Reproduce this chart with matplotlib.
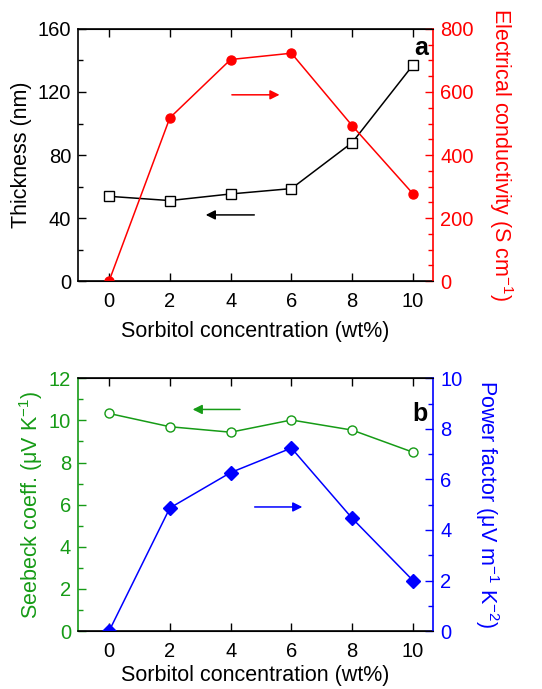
import matplotlib.pyplot as plt
from matplotlib.ticker import MultipleLocator

plt.rcParams['font.family'] = ['Liberation Sans', 'DejaVu Sans']
plt.rcParams['mathtext.default'] = 'regular'
plt.rcParams['axes.unicode_minus'] = False

# data
conc = [0, 2, 4, 6, 8, 10]
thickness = [53.8, 51.1, 55.3, 58.7, 87.9, 137.1]
conductivity = [0, 518, 703, 723, 493, 277]
seebeck = [10.33, 9.70, 9.44, 10.02, 9.54, 8.49]
power_factor = [0, 4.87, 6.27, 7.24, 4.46, 2.0]

red = '#ff0000'
green = '#169b16'
blue = '#0000ff'
tfs = 14.5   # tick labels
lfs = 15.5   # axis labels

fig = plt.figure(figsize=(5.42, 6.89), dpi=100)
ax1 = fig.add_axes([0.144, 0.592, 0.655, 0.366])
ax2 = fig.add_axes([0.144, 0.084, 0.655, 0.367])


def style(ax, tw, lcol, rcol):
    ax.tick_params(which='both', direction='in', top=True, labelsize=tfs)
    ax.tick_params(axis='x', pad=8)
    ax.tick_params(axis='y', pad=5)
    ax.tick_params(which='major', length=6, width=1)
    ax.tick_params(which='minor', length=3.5, width=1)
    ax.tick_params(axis='y', which='both', colors=lcol, labelcolor=lcol)
    tw.tick_params(which='both', direction='in', labelsize=tfs, colors=rcol, pad=5)
    tw.tick_params(which='major', length=6, width=1)
    tw.tick_params(which='minor', length=3.5, width=1)
    ax.spines['left'].set_color(lcol)
    tw.spines['left'].set_visible(False)
    tw.spines['right'].set_color(rcol)
    for s in ax.spines.values():
        s.set_linewidth(1.2)
    tw.spines['right'].set_linewidth(1.2)
    ax.spines['right'].set_visible(False)
    ax.set_xlim(-1.02, 10.66)
    ax.set_xticks(conc)


# panel a
tw1 = ax1.twinx()
ax1.plot(conc, thickness, '-s', color='black', mfc='white', mec='black', ms=7, lw=1.1)
tw1.plot(conc, conductivity, '-o', color=red, ms=6.5, lw=1.1)
ax1.set_ylim(0, 160)
ax1.yaxis.set_major_locator(MultipleLocator(40))
ax1.yaxis.set_minor_locator(MultipleLocator(20))
tw1.set_ylim(0, 800)
tw1.yaxis.set_major_locator(MultipleLocator(200))
tw1.yaxis.set_minor_locator(MultipleLocator(50))
style(ax1, tw1, 'black', red)
ax1.set_ylabel('Thickness (nm)', fontsize=lfs, labelpad=4)
tw1.set_ylabel('Electrical conductivity (S cm$^{-1}$)', fontsize=lfs, color=red,
               rotation=270, labelpad=30)
ax1.set_xlabel('Sorbitol concentration (wt%)', fontsize=lfs, labelpad=7)
ax1.annotate('', xy=(3.09, 42), xytext=(4.87, 42),
             arrowprops=dict(arrowstyle='-|>', color='black', lw=1.1, mutation_scale=14))
tw1.annotate('', xy=(5.7, 591), xytext=(3.95, 591),
             arrowprops=dict(arrowstyle='-|>', color=red, lw=1.1, mutation_scale=14))
ax1.text(0.985, 0.925, 'a', transform=ax1.transAxes, fontsize=18, fontweight='bold',
         ha='right', va='center')

# panel b
tw2 = ax2.twinx()
ax2.plot(conc, seebeck, '-o', color=green, mfc='white', mec=green, ms=6.5, lw=1.1)
tw2.plot(conc, power_factor, '-D', color=blue, ms=7.5, lw=1.1)
ax2.set_ylim(0, 12)
ax2.yaxis.set_major_locator(MultipleLocator(2))
ax2.yaxis.set_minor_locator(MultipleLocator(1))
tw2.set_ylim(0, 10)
tw2.yaxis.set_major_locator(MultipleLocator(2))
tw2.yaxis.set_minor_locator(MultipleLocator(1))
style(ax2, tw2, green, blue)
ax2.set_ylabel('Seebeck coeff. (μV K$^{-1}$)', fontsize=lfs, color=green, labelpad=3)
tw2.set_ylabel('Power factor (μV m$^{-1}$ K$^{-2}$)', fontsize=lfs, color=blue,
               rotation=270, labelpad=28)
ax2.set_xlabel('Sorbitol concentration (wt%)', fontsize=lfs, labelpad=3)
ax2.annotate('', xy=(2.66, 10.52), xytext=(4.4, 10.52),
             arrowprops=dict(arrowstyle='-|>', color=green, lw=1.1, mutation_scale=14))
tw2.annotate('', xy=(6.45, 4.91), xytext=(4.7, 4.91),
             arrowprops=dict(arrowstyle='-|>', color=blue, lw=1.1, mutation_scale=14))
ax2.text(0.985, 0.86, 'b', transform=ax2.transAxes, fontsize=18, fontweight='bold',
         ha='right', va='center')

fig.savefig('out.png', dpi=100)
